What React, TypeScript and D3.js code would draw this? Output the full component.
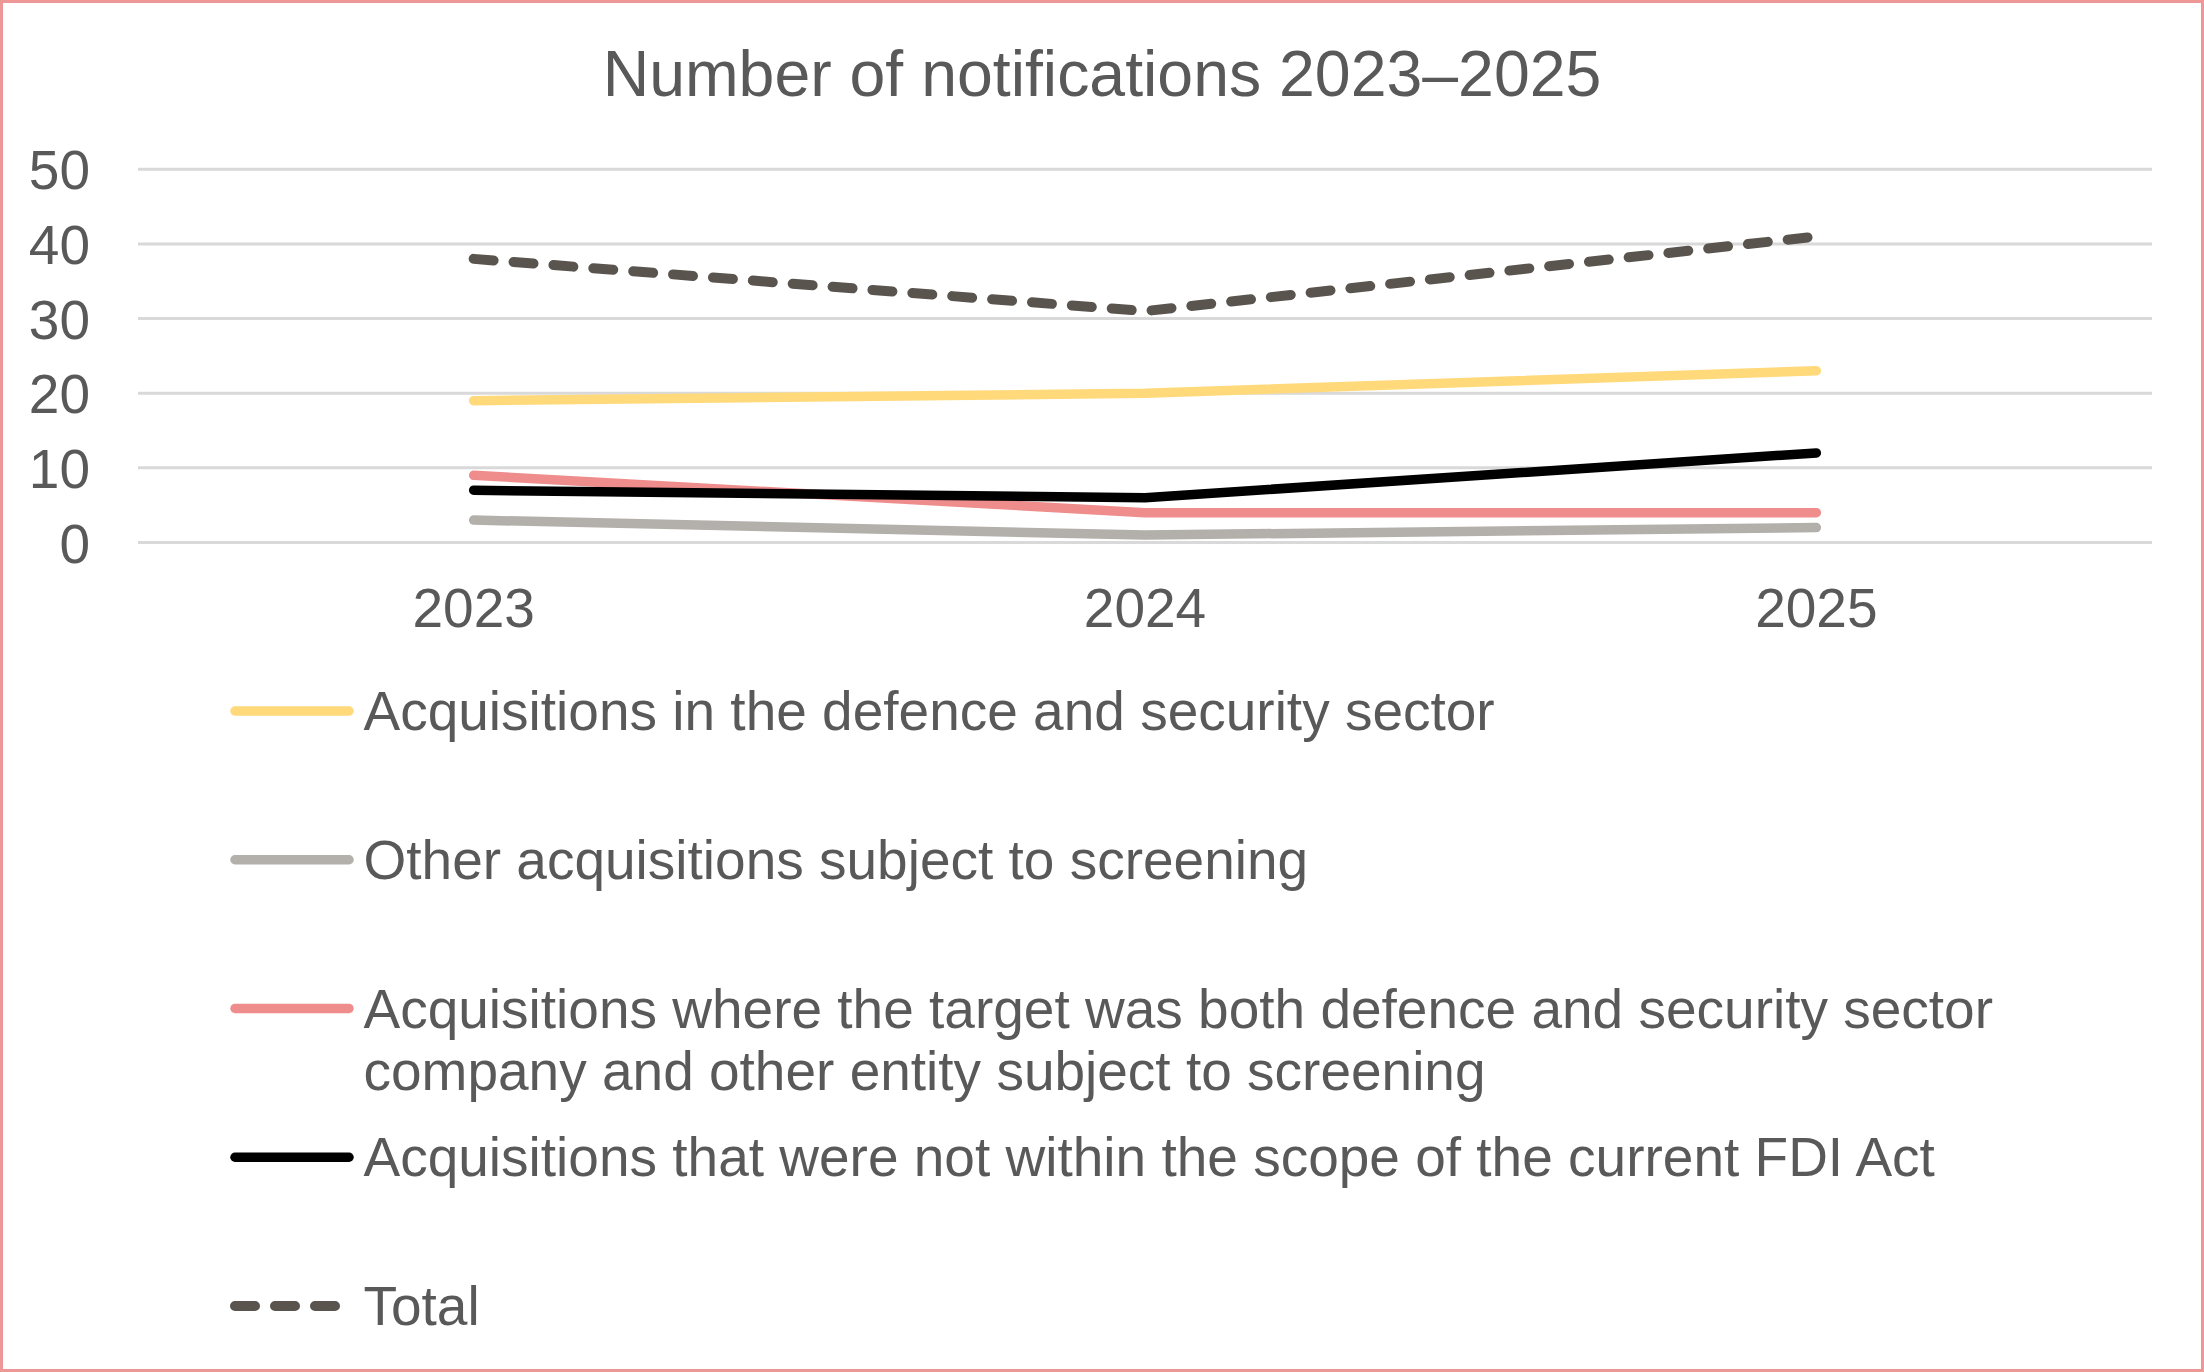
import React from 'react';
import * as d3 from 'd3';

const years = ['2023', '2024', '2025'];
const yTicks = [0, 10, 20, 30, 40, 50];

const defence = [19, 20, 23];
const otherScreening = [3, 1, 2];
const bothTargets = [9, 4, 4];
const outOfScope = [7, 6, 12];
const total = [38, 31, 41];

const seriesNames = [
  'Acquisitions in the defence and security sector',
  'Other acquisitions subject to screening',
  'Acquisitions where the target was both defence and security sector|company and other entity subject to screening',
  'Acquisitions that were not within the scope of the current FDI Act',
  'Total',
];

const series = [
  { name: seriesNames[0], values: defence, color: '#FFD97A', dashed: false },
  { name: seriesNames[1], values: otherScreening, color: '#B3AFAA', dashed: false },
  { name: seriesNames[2], values: bothTargets, color: '#EF8D8D', dashed: false },
  { name: seriesNames[3], values: outOfScope, color: '#000000', dashed: false },
  { name: seriesNames[4], values: total, color: '#5A544F', dashed: true },
];

const W = 2204;
const H = 1372;
const textColor = '#595959';
const font = '"Liberation Sans", Arial, sans-serif';
const labelSize = 55;

export default function App() {
  const x = d3.scaleBand<string>().domain(years).range([138, 2152]);
  const y = d3.scaleLinear().domain([0, 50]).range([542.5, 169.3]);
  const cx = (yr: string) => (x(yr) || 0) + x.bandwidth() / 2;

  const line = d3
    .line<number>()
    .x((_, i) => cx(years[i]))
    .y((v) => y(v));

  // legend rows
  const legendY = d3.scaleLinear().domain([0, 4]).range([711, 1306]);

  return (
    <svg
      width={W}
      height={H}
      style={{ position: 'absolute', left: 0, top: 0 }}
      fontFamily={font}
    >
      <rect x={0} y={0} width={W} height={H} fill="#fff" />
      <rect x={1.5} y={1.5} width={W - 3} height={H - 3} fill="none" stroke="#EE9797" strokeWidth={3} />

      <text x={W / 2} y={96} textAnchor="middle" fontSize={64.4} fill={textColor}>
        Number of notifications 2023–2025
      </text>

      {/* gridlines and y labels */}
      {yTicks.map((t) => (
        <g key={t}>
          <line x1={138} x2={2152} y1={y(t)} y2={y(t)} stroke="#D9D9D9" strokeWidth={3} />
          <text x={90} y={y(t) + 20} textAnchor="end" fontSize={labelSize} fill={textColor}>
            {t}
          </text>
        </g>
      ))}

      {/* x labels */}
      {years.map((yr) => (
        <text key={yr} x={cx(yr)} y={627} textAnchor="middle" fontSize={labelSize} fill={textColor}>
          {yr}
        </text>
      ))}

      {/* series */}
      {series.map((s) => (
        <path
          key={s.name}
          d={line(s.values) || ''}
          fill="none"
          stroke={s.color}
          strokeWidth={s.dashed ? 10 : 9.5}
          strokeLinecap="round"
          strokeLinejoin="round"
          strokeDasharray={s.dashed ? '20 20' : undefined}
        />
      ))}

      {/* legend */}
      {series.map((s, i) => {
        const ly = legendY(i);
        const parts = s.name.split('|');
        return (
          <g key={'lg' + i}>
            <line
              x1={235}
              x2={349}
              y1={ly}
              y2={ly}
              stroke={s.color}
              strokeWidth={s.dashed ? 10 : 9.5}
              strokeLinecap="round"
              strokeDasharray={s.dashed ? '20 20' : undefined}
            />
            <text x={363.5} y={ly + 19} fontSize={labelSize} fill={textColor}>
              {parts.map((p, j) => (
                <tspan key={j} x={363.5} dy={j === 0 ? 0 : 62}>
                  {p}
                </tspan>
              ))}
            </text>
          </g>
        );
      })}
    </svg>
  );
}
